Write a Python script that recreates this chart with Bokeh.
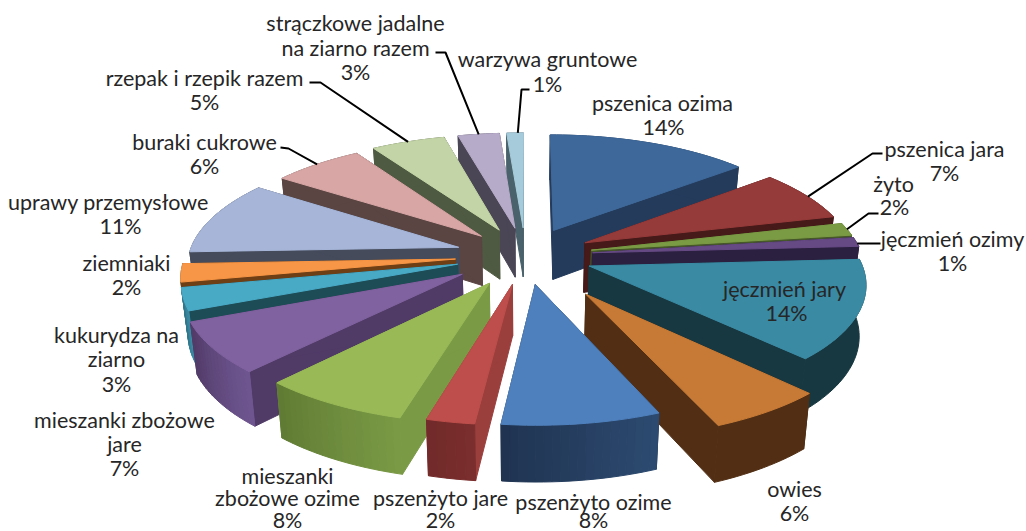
import math
from bokeh.plotting import figure
from bokeh.embed import file_html
from bokeh.resources import INLINE
from bokeh.core.properties import value as pv

names = ["pszenica ozima","pszenica jara","żyto","jęczmień ozimy","jęczmień jary","owies","pszenżyto ozime",
         "pszenżyto jare","mieszanki zbożowe ozime","mieszanki zbożowe jare","kukurydza na ziarno","ziemniaki",
         "uprawy przemysłowe","buraki cukrowe","rzepak i rzepik razem","strączkowe jadalne na ziarno razem","warzywa gruntowe"]
values = [14, 7.1, 1.75, 1.25, 13.7, 5.95, 8.05, 2.45, 7.55, 7, 3.1, 2.5, 10.3, 6.25, 5.1, 2.85, 1.15]
explode = [.25,.25,.25,.25,.25,.39,.25,.25,.27,.28,.26,.26,.26,.24,.25,.25,.25]
top_col = ["#3D6899","#953B3A","#7B9A44","#664A84","#3A8AA4","#C77A35","#4E80BD","#BD4E4B","#99B957","#7F629F",
           "#49AAC6","#F79646","#A6B5D8","#D7A6A5","#C3D4A6","#B6ABC8","#A6CBDA"]
wall_col = ["#243B5C","#451A19","#465729","#2C2040","#173840","#522F14","#1F3350","#9B3F3D","#7A9A45","#503A66",
            "#1D4C57","#6E3E15","#454B5B","#5A4543","#4F5A42","#4A4656","#4A626B"]
outer_a = ["#243B5C","#451A19","#465729","#2C2040","#173840","#522F14","#2C4A70","#7A2E2D","#7A9A45","#6E5590",
           "#3C8CA5","#6E3E15","#454B5B","#5A4543","#4F5A42","#4A4656","#4A626B"]
outer_b = ["#243B5C","#451A19","#465729","#2C2040","#173840","#522F14","#1F3350","#702A29","#5F7A33","#503A66",
           "#2F7488","#6E3E15","#454B5B","#5A4543","#4F5A42","#4A4656","#4A626B"]

label_lines = [
 ("strączkowe jadalne",355,22),("na ziarno razem",355,47),("3%",355,71),
 ("warzywa gruntowe",547,58),("1%",547,83),
 ("pszenica ozima",662,102),("14%",663,126),
 ("pszenica jara",944,148),("7%",944,172),
 ("żyto",893,183),("2%",894,206),
 ("jęczmień ozimy",952,238),("1%",952,262),
 ("jęczmień jary",784,288),("14%",786,312),
 ("owies",794,488),("6%",794,512),
 ("pszenżyto ozime",593,501),("8%",593,519),
 ("pszenżyto jare",440,497),("2%",440,519),
 ("mieszanki",287,475),("zbożowe ozime",287,497),("8%",287,519),
 ("mieszanki zbożowe",124,419),("jare",124,443),("7%",124,467),
 ("kukurydza na",116,334),("ziarno",116,358),("3%",116,383),
 ("ziemniaki",126,262),("2%",126,286),
 ("uprawy przemysłowe",108,201),("11%",120,225),
 ("buraki cukrowe",204,141),("6%",204,165),
 ("rzepak i rzepik razem",204,77),("5%",204,101),
]
# slice index -> elbow points of its leader line
leaders = {1:[(872,153),(882,153)], 2:[(868,213),(878,213)], 3:[(880,243)],
           13:[(288,148),(280,147)], 14:[(320,82),(309,82)], 15:[(445,52),(435,52)], 16:[(521,89),(529,89)]}

CX, CY, A, B, K, D = 525, 255, 270, 114, 0.13, 50
START = 0.0

def proj(u, v, bottom=False):
    s = 1/(1+K*v)
    x = A*u*s
    y = B*v*s
    if bottom:
        return CX + x*0.98, CY - y + D*(1+0.7*(s-1))
    return CX + x, CY - y

def mix(c1, c2, t):
    a = [int(c1[i:i+2],16) for i in (1,3,5)]
    b = [int(c2[i:i+2],16) for i in (1,3,5)]
    return "#%02x%02x%02x" % tuple(round(a[i]+(b[i]-a[i])*t) for i in range(3))

total = sum(values)
bounds = []
acc = 0.0
for v in values:
    bounds.append((START+acc/total*360, START+(acc+v)/total*360))
    acc += v

p = figure(width=1026, height=531, x_range=(0,1026), y_range=(531,0), output_backend="svg",
           toolbar_location=None, min_border=0, outline_line_color=None)
p.axis.visible = False
p.grid.visible = False

def slice_xy(i):
    a0, a1 = bounds[i]
    mid = math.radians((a0+a1)/2)
    e = explode[i]
    ou, ov = e*math.sin(mid), e*math.cos(mid)
    n = max(3, int((a1-a0)/1.5))
    pts = []
    for k in range(n+1):
        th = math.radians(a0+(a1-a0)*k/n)
        pts.append((ou+math.sin(th), ov+math.cos(th)))
    return (ou, ov), pts

order = sorted(range(len(values)), key=lambda i: -math.cos(math.radians(sum(bounds[i])/2)))
xs, ys, cols = [], [], []
def add(poly, c):
    xs.append([q[0] for q in poly]); ys.append([q[1] for q in poly]); cols.append(c)

for i in order:
    tip, pts = slice_xy(i)
    for end in (pts[0], pts[-1]):
        add([proj(*tip), proj(*end), proj(*end, True), proj(*tip, True)], wall_col[i])
    if outer_a[i] == outer_b[i]:
        add([proj(*q) for q in pts]+[proj(*q, True) for q in reversed(pts)], outer_a[i])
    else:
        n = len(pts)-1
        for k in range(n):
            q0, q1 = pts[k], pts[k+1]
            add([proj(*q0), proj(*q1), proj(*q1, True), proj(*q0, True)], mix(outer_a[i], outer_b[i], k/n))
    add([proj(*tip)]+[proj(*q) for q in pts], top_col[i])

p.patches(xs, ys, fill_color=cols, line_color=cols, line_width=1)

lx, ly = [], []
for i, elbows in leaders.items():
    _, pts = slice_xy(i)
    a = proj(*pts[len(pts)//2])
    chain = [a]+elbows
    lx.append([q[0] for q in chain]); ly.append([q[1] for q in chain])
p.multi_line(lx, ly, line_color="black", line_width=2)

p.text([l[1] for l in label_lines],[l[2] for l in label_lines],text=[l[0] for l in label_lines],
       text_font=pv("Lato"), text_font_size="21.5px", text_color="#262626",
       text_align="center", text_baseline="middle")

open("out.html","w").write(file_html(p, INLINE))
